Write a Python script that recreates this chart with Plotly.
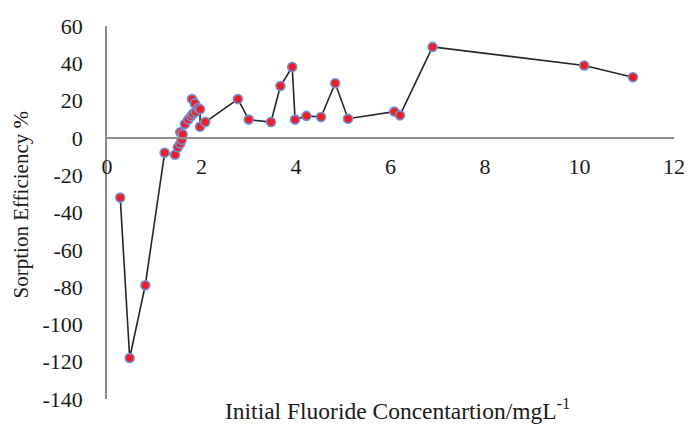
import plotly.graph_objects as go

# Initial fluoride concentration (mg/L) and sorption efficiency (%)
conc = [0.28, 0.48, 0.81, 1.22, 1.44, 1.50, 1.55, 1.58, 1.55, 1.60, 1.65, 1.72,
        1.78, 1.82, 1.80, 1.86, 1.88, 1.93, 1.97, 1.97, 2.08, 2.77, 3.00, 3.47,
        3.67, 3.92, 3.98, 4.22, 4.53, 4.83, 5.10, 6.08, 6.20, 6.89, 10.10, 11.13]
efficiency = [-32, -118, -79, -8, -9, -5, -3, -1, 3, 2, 7.5, 9.8,
              11.6, 13, 20.8, 18.5, 14, 16, 15.4, 6, 8.5, 20.8, 9.8, 8.5,
              27.8, 38, 9.8, 11.8, 11.2, 29.3, 10.3, 14.1, 12.1, 48.8, 38.8, 32.5]

x_ticks = [0, 2, 4, 6, 8, 10, 12]
y_ticks = [60, 40, 20, 0, -20, -40, -60, -80, -100, -120, -140]

X_RANGE = [0, 12]
Y_RANGE = [-140, 60]

FONT = "Liberation Serif, Times New Roman, serif"
TEXT = "#1a1a1a"
AXIS = "#8c8c8c"

fig = go.Figure(
    go.Scatter(
        x=conc,
        y=efficiency,
        mode="lines+markers",
        line=dict(color="#262626", width=1.6),
        marker=dict(size=9, color="#f41c24", line=dict(color="#6a95dc", width=1.6)),
        showlegend=False,
    )
)

# x axis sits on the y = 0 line
zero_pos = (0 - Y_RANGE[0]) / (Y_RANGE[1] - Y_RANGE[0])

fig.update_layout(
    width=697,
    height=425,
    margin=dict(l=107, r=14, t=26, b=26),
    paper_bgcolor="white",
    plot_bgcolor="white",
    font=dict(family=FONT, size=22, color=TEXT),
    xaxis=dict(
        range=X_RANGE,
        tickvals=x_ticks,
        ticktext=[str(v) for v in x_ticks],
        showgrid=False,
        zeroline=False,
        showline=True,
        linecolor=AXIS,
        linewidth=1.5,
        ticks="",
        anchor="free",
        position=zero_pos,
        ticklabelstandoff=9,
        tickfont=dict(family=FONT, size=22, color=TEXT),
    ),
    yaxis=dict(
        range=Y_RANGE,
        tickvals=y_ticks,
        ticktext=[str(v) for v in y_ticks],
        showgrid=False,
        zeroline=False,
        showline=True,
        linecolor=AXIS,
        linewidth=1.5,
        ticks="",
        ticklabelstandoff=18,
        tickfont=dict(family=FONT, size=22, color=TEXT),
    ),
    annotations=[
        dict(
            text="Initial Fluoride Concentartion/mgL<sup>-1</sup>",
            xref="paper", yref="paper",
            x=0.512, y=-0.027,
            xanchor="center", yanchor="middle",
            showarrow=False,
            font=dict(family=FONT, size=23.5, color=TEXT),
        ),
        dict(
            text="Sorption Efficiency %",
            xref="paper", yref="paper",
            x=-0.151, y=0.52,
            xanchor="center", yanchor="middle",
            textangle=-90,
            showarrow=False,
            font=dict(family=FONT, size=21, color=TEXT),
        ),
    ],
)

fig.write_html("out.html")
